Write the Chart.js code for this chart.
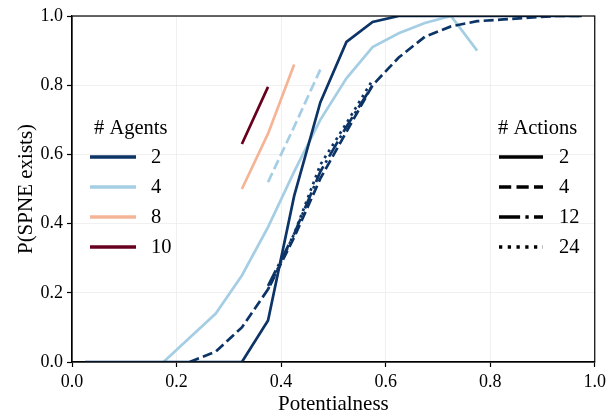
<!DOCTYPE html>
<html>
<head>
<meta charset="utf-8">
<script src="https://cdn.jsdelivr.net/npm/chart.js@4"></script>
<style>
  html, body { margin: 0; padding: 0; background: #fff; }
  #wrap { width: 610px; height: 415px; position: relative; }
</style>
</head>
<body>
<div id="wrap"><canvas id="spne-chart"></canvas></div>
<script>
// data
const xTicks = [0.0, 0.2, 0.4, 0.6, 0.8, 1.0];
const yTicks = [0.0, 0.2, 0.4, 0.6, 0.8, 1.0];

const agents2Actions2X = [0.025, 0.075, 0.125, 0.175, 0.225, 0.275, 0.325, 0.375, 0.425, 0.475, 0.525, 0.575, 0.625, 0.675, 0.725, 0.775, 0.825, 0.875, 0.925, 0.975];
const agents2Actions2Y = [0, 0, 0, 0, 0, 0, 0, 0.12, 0.48, 0.75, 0.925, 0.983, 1, 1, 1, 1, 1, 1, 1, 1];

const agents2Actions4X = [0.225, 0.275, 0.325, 0.375, 0.425, 0.475, 0.525, 0.575, 0.625, 0.675, 0.725, 0.775, 0.825, 0.875, 0.925, 0.975];
const agents2Actions4Y = [0, 0.03, 0.10, 0.21, 0.36, 0.53, 0.665, 0.80, 0.88, 0.94, 0.97, 0.985, 0.99, 0.995, 1, 1];

const agents2Actions12X = [0.375, 0.425, 0.475, 0.525, 0.575];
const agents2Actions12Y = [0.22, 0.37, 0.55, 0.68, 0.80];

const agents2Actions24X = [0.375, 0.425, 0.475, 0.525, 0.575];
const agents2Actions24Y = [0.21, 0.37, 0.57, 0.69, 0.815];

const agents4Actions2X = [0.175, 0.225, 0.275, 0.325, 0.375, 0.425, 0.475, 0.525, 0.575, 0.625, 0.675, 0.725, 0.775];
const agents4Actions2Y = [0, 0.07, 0.14, 0.25, 0.39, 0.55, 0.70, 0.82, 0.91, 0.95, 0.98, 1.0, 0.90];

const agents4Actions4X = [0.375, 0.425, 0.475];
const agents4Actions4Y = [0.52, 0.68, 0.845];

const agents8Actions2X = [0.325, 0.375, 0.425];
const agents8Actions2Y = [0.50, 0.66, 0.86];

const agents10Actions2X = [0.325, 0.375];
const agents10Actions2Y = [0.63, 0.795];

const agentLabels = ['2', '4', '8', '10'];
const actionLabels = ['2', '4', '12', '24'];

const agentColors = ['#0c3466', '#a5cee4', '#f6b497', '#67001f'];
// matplotlib-ish dash patterns, in units of line width
const actionDashes = [[], [3.7, 1.6], [6.4, 1.6, 1, 1.6], [1, 1.65]];

function dashFor(actionIdx, lw) {
    return actionDashes[actionIdx].map(d => d * lw);
}

function pts(xs, ys) {
    return xs.map((x, i) => ({ x: x, y: ys[i] }));
}

const lineW = 2.7;

function series(xs, ys, agentIdx, actionIdx) {
    return {
        data: pts(xs, ys),
        borderColor: agentColors[agentIdx],
        borderDash: dashFor(actionIdx, lineW),
        borderWidth: lineW,
        pointRadius: 0,
        tension: 0,
        fill: false
    };
}

const serif = '"Liberation Serif", "Times New Roman", serif';

// two hand drawn legends plus the top/right spines
const legendsPlugin = {
    id: 'legends',
    afterDraw(chart) {
        const ctx = chart.ctx;
        const area = chart.chartArea;
        ctx.save();

        ctx.strokeStyle = '#000';
        ctx.lineWidth = 1.2;
        ctx.strokeRect(area.left, area.top, area.right - area.left, area.bottom - area.top);

        ctx.font = '20.5px ' + serif;
        ctx.textBaseline = 'middle';
        ctx.fillStyle = '#000';
        ctx.textAlign = 'left';

        // agents
        ctx.fillText('# Agents', 94, 129);
        agentLabels.forEach((lab, i) => {
            const y = 157 + i * 30;
            ctx.strokeStyle = agentColors[i];
            ctx.lineWidth = 3.3;
            ctx.setLineDash([]);
            ctx.beginPath();
            ctx.moveTo(90, y);
            ctx.lineTo(136, y);
            ctx.stroke();
            ctx.fillText(lab, 151, y + 1);
        });

        // actions
        ctx.fillText('# Actions', 498, 129);
        actionLabels.forEach((lab, i) => {
            const y = 157 + i * 30;
            ctx.strokeStyle = '#000';
            ctx.lineWidth = 3.3;
            ctx.setLineDash(dashFor(i, 3.3));
            ctx.beginPath();
            ctx.moveTo(499, y);
            ctx.lineTo(543, y);
            ctx.stroke();
            ctx.fillText(lab, 559, y + 1);
        });

        ctx.restore();
    }
};

new Chart(document.getElementById('spne-chart'), {
    type: 'line',
    data: {
        datasets: [
            series(agents10Actions2X, agents10Actions2Y, 3, 0),
            series(agents8Actions2X, agents8Actions2Y, 2, 0),
            series(agents2Actions2X, agents2Actions2Y, 0, 0),
            series(agents2Actions24X, agents2Actions24Y, 0, 3),
            series(agents2Actions12X, agents2Actions12Y, 0, 2),
            series(agents2Actions4X, agents2Actions4Y, 0, 1),
            series(agents4Actions2X, agents4Actions2Y, 1, 0),
            series(agents4Actions4X, agents4Actions4Y, 1, 1)
        ]
    },
    options: {
        responsive: true,
        maintainAspectRatio: false,
        animation: false,
        layout: { padding: { left: 0, top: 16, right: 11, bottom: 0 } },
        plugins: {
            legend: { display: false },
            tooltip: { enabled: false }
        },
        scales: {
            x: {
                type: 'linear',
                min: 0,
                max: 1,
                afterBuildTicks: (scale) => { scale.ticks = xTicks.map(v => ({ value: v })); },
                afterFit: (scale) => { scale.height = 53; },
                ticks: {
                    color: '#000',
                    font: { family: serif, size: 18 },
                    padding: 4,
                    maxRotation: 0,
                    callback: (v) => v.toFixed(1)
                },
                grid: { color: '#ececec', lineWidth: 0.8, tickColor: '#000', tickLength: 5, tickWidth: 1.2 },
                border: { display: true, color: '#000', width: 1.2 },
                title: {
                    display: true,
                    text: 'Potentialness',
                    color: '#000',
                    font: { family: serif, size: 21, lineHeight: 1 },
                    padding: { top: 0, bottom: 0 }
                }
            },
            y: {
                type: 'linear',
                min: 0,
                max: 1,
                afterBuildTicks: (scale) => { scale.ticks = yTicks.map(v => ({ value: v })); },
                afterFit: (scale) => { scale.width = 72; },
                ticks: {
                    color: '#000',
                    font: { family: serif, size: 18 },
                    padding: 4,
                    callback: (v) => v.toFixed(1)
                },
                grid: { color: '#ececec', lineWidth: 0.8, tickColor: '#000', tickLength: 5, tickWidth: 1.2 },
                border: { display: true, color: '#000', width: 1.2 },
                title: {
                    display: true,
                    text: 'P(SPNE exists)',
                    color: '#000',
                    font: { family: serif, size: 21, lineHeight: 1 },
                    padding: { top: 16, bottom: 0 }
                }
            }
        }
    },
    plugins: [legendsPlugin]
});
</script>
</body>
</html>
